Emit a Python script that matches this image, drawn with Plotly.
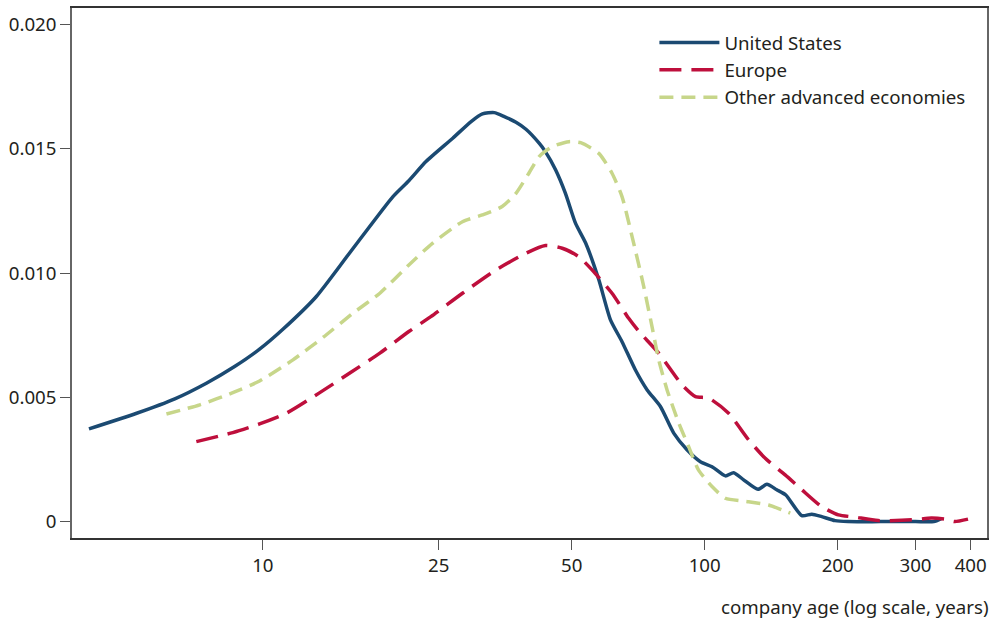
import plotly.graph_objects as go

# ---------------- data ----------------
us_age = [4.04, 5.18, 6.32, 7.45, 8.63, 9.83, 11.1, 13.2, 15.7, 19.7, 21.4, 23.4, 26.9,
          29.6, 31.4, 33.4, 35.2, 37.4, 39.4, 42.2, 43.6, 46.0, 48.4, 51.0, 53.8, 57.6,
          61.2, 65.0, 69.7, 74.1, 79.4, 85.1, 91.2, 97.8, 103.9, 111.4, 116.3, 122.5,
          132.0, 138.3, 145.6, 152.6, 165.9, 174.8, 184.1, 197.3, 211.0, 250.0, 300.0,
          330.0, 343.0]
us_val = [0.00373, 0.00436, 0.00494, 0.00557, 0.00624, 0.00694, 0.00774, 0.00905, 0.0108,
          0.01308, 0.01372, 0.01449, 0.01543, 0.0161, 0.01641, 0.01646, 0.0163, 0.01607,
          0.01579, 0.01523, 0.01489, 0.01415, 0.01321, 0.01201, 0.0112, 0.00973, 0.00812,
          0.00724, 0.0061, 0.0053, 0.00463, 0.00356, 0.00289, 0.00241, 0.00221, 0.00184,
          0.00197, 0.00168, 0.0013, 0.0015, 0.00128, 0.00107, 0.00024, 0.0003, 0.0002,
          0.00004, 0.0, 0.0, 0.0, 0.0, 0.00012]

eu_age = [7.07, 8.55, 9.83, 11.3, 13.4, 15.7, 18.4, 21.4, 24.0, 28.3, 33.7, 39.4, 43.6,
          47.6, 51.9, 55.6, 61.7, 67.3, 71.0, 78.7, 88.9, 95.3, 102.1, 113.3, 125.7,
          137.1, 152.1, 166.0, 184.0, 200.8, 218.8, 247.0, 294.0, 326.0, 350.0, 368.0,
          394.5]
eu_val = [0.00322, 0.00358, 0.00393, 0.00436, 0.00517, 0.00597, 0.00678, 0.00765, 0.00825,
          0.00919, 0.01013, 0.0108, 0.01111, 0.0110, 0.01066, 0.01013, 0.00919, 0.00818,
          0.00765, 0.00678, 0.0055, 0.00503, 0.00497, 0.00436, 0.00329, 0.00255, 0.00188,
          0.00128, 0.0006, 0.00027, 0.00018, 0.00004, 0.00007, 0.00014, 0.0001, 0.0,
          0.0001]

oth_age = [6.05, 7.2, 8.55, 9.83, 11.7, 13.7, 16.0, 18.4, 21.4, 24.2, 28.3, 31.4, 34.8,
           37.4, 40.0, 42.2, 45.2, 49.3, 52.4, 57.6, 61.7, 65.0, 68.5, 72.5, 76.0, 78.7,
           82.2, 87.4, 92.0, 96.8, 103.9, 111.4, 125.7, 139.5, 149.5, 156.2]
oth_val = [0.00433, 0.0047, 0.00519, 0.00566, 0.00651, 0.00742, 0.00839, 0.00919, 0.01033,
           0.0112, 0.01207, 0.01234, 0.01268, 0.01321, 0.01402, 0.01469, 0.01509, 0.01529,
           0.01525, 0.01482, 0.01402, 0.01308, 0.01147, 0.0096, 0.00785, 0.00651, 0.0053,
           0.00396, 0.00302, 0.00208, 0.00141, 0.00094, 0.0008, 0.00067, 0.00047, 0.00034]

names = ["United States", "Europe", "Other advanced economies"]
x_tick_vals = [10, 25, 50, 100, 200, 300, 400]
y_tick_vals = [0, 0.005, 0.010, 0.015, 0.020]
y_tick_text = ["0", "0.005", "0.010", "0.015", "0.020"]
x_title = "company age (log scale, years)"

# ---------------- figure ----------------
FONT = "Noto Sans"
TXT = "#231f20"
FS = 18.7

fig = go.Figure()
fig.add_trace(go.Scatter(x=us_age, y=us_val, name=names[0], mode="lines",
                         line=dict(color="#1b4a72", width=3.5, shape="spline", smoothing=0.6)))
fig.add_trace(go.Scatter(x=eu_age, y=eu_val, name=names[1], mode="lines",
                         line=dict(color="#be0f3c", width=3.5, dash="22px,10px",
                                   shape="spline", smoothing=0.6)))
fig.add_trace(go.Scatter(x=oth_age, y=oth_val, name=names[2], mode="lines",
                         line=dict(color="#c7d68a", width=3.5, dash="14px,8px",
                                   shape="spline", smoothing=0.6)))

fig.update_layout(
    width=993, height=620,
    margin=dict(l=72, r=4, t=8, b=82),
    paper_bgcolor="white", plot_bgcolor="white",
    font=dict(family=FONT, size=FS, color=TXT),
    legend=dict(x=0.6365, y=0.970, xanchor="left", yanchor="top",
                bgcolor="rgba(0,0,0,0)", font=dict(size=FS, color=TXT),
                itemwidth=60, tracegroupgap=0),
    xaxis=dict(type="log", range=[0.568, 2.639],
               tickvals=x_tick_vals, ticktext=[str(v) for v in x_tick_vals],
               ticks="outside", ticklen=10, tickwidth=1.2, tickcolor="#555",
               showline=True, linecolor="#333", linewidth=1.5, mirror=True,
               showgrid=False, zeroline=False, tickfont=dict(size=FS, color=TXT)),
    yaxis=dict(range=[-0.00066, 0.02067],
               tickvals=y_tick_vals, ticktext=y_tick_text,
               ticks="outside", ticklen=10, tickwidth=1.2, tickcolor="#555",
               showline=True, linecolor="#666", linewidth=1.5, mirror=True,
               showgrid=False, zeroline=False, tickfont=dict(size=FS, color=TXT)),
    annotations=[dict(text=x_title, xref="paper", yref="paper", x=1.0, y=-0.13,
                      xanchor="right", yanchor="middle", showarrow=False, xshift=4,
                      font=dict(size=FS, color=TXT))],
)

fig.write_html("out.html")
